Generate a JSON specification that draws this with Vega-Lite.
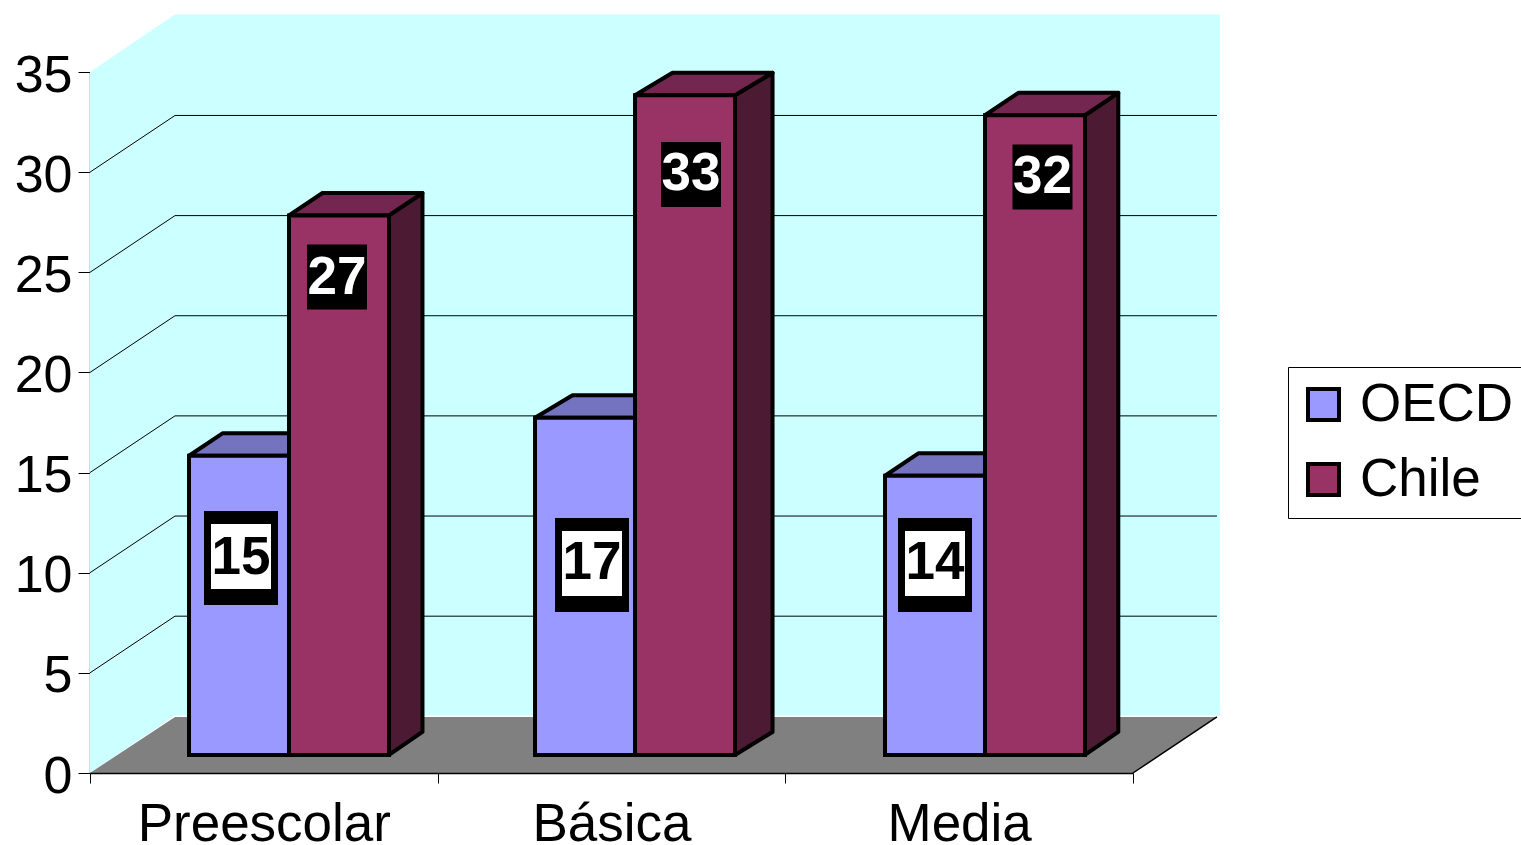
{
"$schema":"https://vega.github.io/schema/vega-lite/v6.json",
"width":1043,"height":701,
"autosize":{"type":"none"},
"padding":{"left":90,"top":72,"right":388,"bottom":72},
"background":"white",
"config":{"view":{"stroke":null},"font":"Liberation Sans",
 "axisY":{"tickCount":8,"labelFontSize":52,"labelFont":"Liberation Sans","labelColor":"black","labelPadding":6,"labelOffset":3,"tickSize":12,"tickColor":"black","domainColor":"#3f6f6f","domainWidth":1.5,"grid":false,"zindex":1}},
"resolve":{"scale":{"x":"independent"}},
"datasets":{
"valores":[
{"nivel":"Preescolar","serie":"OECD","valor":15},
{"nivel":"Preescolar","serie":"Chile","valor":27},
{"nivel":"Básica","serie":"OECD","valor":16.9},
{"nivel":"Básica","serie":"Chile","valor":33},
{"nivel":"Media","serie":"OECD","valor":14},
{"nivel":"Media","serie":"Chile","valor":32}
],
"planos":[{"fondo":0},{"fondo":1}],
"marcas":[{"marca":5},{"marca":10},{"marca":15},{"marca":20},{"marca":25},{"marca":30}]
},
"layer":[
{"data":{"name":"valores"},"mark":{"type":"rect","opacity":0},
 "encoding":{"x":{"field":"nivel","type":"nominal","sort":["Preescolar","Básica","Media"],
  "scale":{"paddingInner":0,"paddingOuter":0},
  "axis":{"title":null,"orient":"bottom","labelAngle":0,"labelFontSize":53,"labelFont":"Liberation Sans","labelColor":"black","labelPadding":15,"labelLimit":400,"tickBand":"extent","tickSize":10,"tickColor":"black","domainColor":"black","domainWidth":1.5,"zindex":1}}}},
{"data":{"name":"planos"},"transform":[{"calculate":"datum.fondo*0.2445","as":"xp"},{"calculate":"datum.fondo*2.87","as":"y0"},{"calculate":"35+datum.fondo*2.87","as":"y1"}],
 "mark":{"type":"area","color":"#CCFFFF"},
 "encoding":{"x":{"field":"xp","type":"quantitative","scale":{"domain":[0,3],"nice":false,"zero":false},"axis":null},
  "y":{"field":"y0","type":"quantitative","scale":{"domain":[0,35],"nice":false},"axis":{"title":null}},
  "y2":{"field":"y1"}}},
{"data":{"name":"planos"},"transform":[{"filter":"datum.fondo==1"},{"calculate":"0.2445","as":"xa"},{"calculate":"3.2500","as":"xb"},{"calculate":"2.87","as":"y0"},{"calculate":"37.87","as":"y1"}],
 "mark":{"type":"rect","color":"#CCFFFF"},
 "encoding":{"x":{"field":"xa","type":"quantitative","scale":{"domain":[0,3],"nice":false,"zero":false},"axis":null},"x2":{"field":"xb"},
  "y":{"field":"y0","type":"quantitative","scale":{"domain":[0,35],"nice":false},"axis":{"title":null}},"y2":{"field":"y1"}}},
{"data":{"name":"planos"},"transform":[{"calculate":"datum.fondo*2.8","as":"yp"},{"calculate":"datum.fondo*0.2445","as":"xa"},{"calculate":"3+datum.fondo*0.2415","as":"xb"}],
 "mark":{"type":"area","orient":"horizontal","color":"#808080"},
 "encoding":{"y":{"field":"yp","type":"quantitative","scale":{"domain":[0,35],"nice":false},"axis":{"title":null}},
  "x":{"field":"xa","type":"quantitative","scale":{"domain":[0,3],"nice":false,"zero":false},"axis":null},"x2":{"field":"xb"}}},
{"data":{"name":"marcas"},"transform":[{"calculate":"datum.marca+2.83","as":"yf"},{"calculate":"0.2445","as":"xa"},{"calculate":"3.2415","as":"xb"}],
 "mark":{"type":"rule","color":"black","strokeWidth":1},
 "encoding":{"x":{"field":"xa","type":"quantitative","scale":{"domain":[0,3],"nice":false,"zero":false},"axis":null},"x2":{"field":"xb"},
  "y":{"field":"yf","type":"quantitative","scale":{"domain":[0,35],"nice":false},"axis":{"title":null}}}},
{"data":{"name":"marcas"},"transform":[{"calculate":"datum.marca+2.83","as":"yf"},{"calculate":"0","as":"xa"},{"calculate":"0.2445","as":"xb"}],
 "mark":{"type":"rule","color":"black","strokeWidth":1},
 "encoding":{"x":{"field":"xa","type":"quantitative","scale":{"domain":[0,3],"nice":false,"zero":false},"axis":null},"x2":{"field":"xb"},
  "y":{"field":"marca","type":"quantitative","scale":{"domain":[0,35],"nice":false},"axis":{"title":null}},"y2":{"field":"yf"}}},
{"data":{"name":"planos"},"transform":[{"filter":"datum.fondo==1"},{"calculate":"3","as":"xa"},{"calculate":"3.2415","as":"xb"},{"calculate":"0","as":"y0"},{"calculate":"2.8","as":"y1"}],
 "mark":{"type":"rule","color":"black","strokeWidth":1.5},
 "encoding":{"x":{"field":"xa","type":"quantitative","scale":{"domain":[0,3],"nice":false,"zero":false},"axis":null},"x2":{"field":"xb"},
  "y":{"field":"y0","type":"quantitative","scale":{"domain":[0,35],"nice":false},"axis":{"title":null}},"y2":{"field":"y1"}}},
{"data":{"name":"valores"},"transform":[
  {"calculate":"indexof(['Preescolar','Básica','Media'],datum.nivel)","as":"i"},
  {"calculate":"[0.2848,1.28,2.2867][datum.i]+(datum.serie==='Chile'?0.2876:0)+0.2876","as":"x1"},
  {"calculate":"[0.0963,0.108,0.0958][datum.i]","as":"dxb"},
  {"calculate":"[0,1]","as":"f"},{"flatten":["f"]},
  {"calculate":"datum.x1+datum.f*datum.dxb","as":"xs"},
  {"calculate":"0.9+datum.f*1.15","as":"yb"},
  {"calculate":"0.84+datum.valor+datum.f*1.12","as":"yt"}],
 "mark":{"type":"area","stroke":"black","strokeWidth":4,"strokeJoin":"round"},
 "encoding":{"x":{"field":"xs","type":"quantitative","scale":{"domain":[0,3],"nice":false,"zero":false},"axis":null},
  "y":{"field":"yb","type":"quantitative","scale":{"domain":[0,35],"nice":false},"axis":{"title":null}},"y2":{"field":"yt"},
  "detail":[{"field":"nivel"},{"field":"serie"}],
  "fill":{"condition":{"test":"datum.serie==='OECD'","value":"#4D4D80"},"value":"#4D1A33"}}},
{"data":{"name":"valores"},"transform":[
  {"calculate":"indexof(['Preescolar','Básica','Media'],datum.nivel)","as":"i"},
  {"calculate":"[0.2848,1.28,2.2867][datum.i]+(datum.serie==='Chile'?0.2876:0)","as":"x0"},
  {"calculate":"[0.0963,0.108,0.0958][datum.i]","as":"dxb"},
  {"calculate":"[0,1]","as":"f"},{"flatten":["f"]},
  {"calculate":"datum.x0+datum.f*datum.dxb","as":"xa"},
  {"calculate":"datum.xa+0.2876","as":"xb"},
  {"calculate":"0.84+datum.valor+datum.f*1.12","as":"yt"}],
 "mark":{"type":"area","orient":"horizontal","stroke":"black","strokeWidth":4,"strokeJoin":"round"},
 "encoding":{"x":{"field":"xa","type":"quantitative","scale":{"domain":[0,3],"nice":false,"zero":false},"axis":null},"x2":{"field":"xb"},
  "y":{"field":"yt","type":"quantitative","scale":{"domain":[0,35],"nice":false},"axis":{"title":null}},
  "detail":[{"field":"nivel"},{"field":"serie"}],
  "fill":{"condition":{"test":"datum.serie==='OECD'","value":"#7373BF"},"value":"#732650"}}},
{"data":{"name":"valores"},"transform":[
  {"calculate":"indexof(['Preescolar','Básica','Media'],datum.nivel)","as":"i"},
  {"calculate":"[0.2848,1.28,2.2867][datum.i]+(datum.serie==='Chile'?0.2876:0)","as":"x0"},
  {"calculate":"datum.x0+0.2876","as":"x1"},
  {"calculate":"0.9","as":"yb"},
  {"calculate":"0.84+datum.valor","as":"yt"}],
 "mark":{"type":"rect","stroke":"black","strokeWidth":4},
 "encoding":{"x":{"field":"x0","type":"quantitative","scale":{"domain":[0,3],"nice":false,"zero":false},"axis":null},"x2":{"field":"x1"},
  "y":{"field":"yb","type":"quantitative","scale":{"domain":[0,35],"nice":false},"axis":{"title":null}},"y2":{"field":"yt"},
  "fill":{"field":"serie","type":"nominal","sort":["OECD","Chile"],"scale":{"domain":["OECD","Chile"],"range":["#9999FF","#993366"]},
   "legend":{"title":null,"orient":"none","legendX":1198,"legendY":295,"fillColor":"white","strokeColor":"black","padding":11,"cornerRadius":0,"symbolType":"square","symbolSize":960,"symbolStrokeColor":"black","symbolStrokeWidth":4,"symbolOffset":-2,"labelFontSize":53,"labelFont":"Liberation Sans","labelColor":"black","labelOffset":10,"labelLimit":400,"rowPadding":21}}}},
{"data":{"name":"valores"},"transform":[{"filter":"datum.serie==='OECD'"},
  {"calculate":"{'Preescolar':0.4343,'Básica':1.4439,'Media':2.4305}[datum.nivel]","as":"cx"},
  {"calculate":"{'Preescolar':10.81,'Básica':10.46,'Media':10.46}[datum.nivel]","as":"cy"},
  {"calculate":"datum.cx-0.1064","as":"xa"},{"calculate":"datum.cx+0.1064","as":"xb"},
  {"calculate":"datum.cy-2.42","as":"ya"},{"calculate":"datum.cy+2.27","as":"yb"}],
 "mark":{"type":"rect","color":"black"},
 "encoding":{"x":{"field":"xa","type":"quantitative","scale":{"domain":[0,3],"nice":false,"zero":false},"axis":null},"x2":{"field":"xb"},
  "y":{"field":"ya","type":"quantitative","scale":{"domain":[0,35],"nice":false},"axis":{"title":null}},"y2":{"field":"yb"}}},
{"data":{"name":"valores"},"transform":[{"filter":"datum.serie==='OECD'"},
  {"calculate":"{'Preescolar':0.4343,'Básica':1.4439,'Media':2.4305}[datum.nivel]","as":"cx"},
  {"calculate":"{'Preescolar':10.81,'Básica':10.46,'Media':10.46}[datum.nivel]","as":"cy"},
  {"calculate":"datum.cx-0.0863","as":"xa"},{"calculate":"datum.cx+0.0863","as":"xb"},
  {"calculate":"datum.cy-1.6225","as":"ya"},{"calculate":"datum.cy+1.6225","as":"yb"}],
 "mark":{"type":"rect","color":"white"},
 "encoding":{"x":{"field":"xa","type":"quantitative","scale":{"domain":[0,3],"nice":false,"zero":false},"axis":null},"x2":{"field":"xb"},
  "y":{"field":"ya","type":"quantitative","scale":{"domain":[0,35],"nice":false},"axis":{"title":null}},"y2":{"field":"yb"}}},
{"data":{"name":"valores"},"transform":[{"filter":"datum.serie==='Chile'"},
  {"calculate":"{'Preescolar':0.7104,'Básica':1.7287,'Media':2.7397}[datum.nivel]","as":"cx"},
  {"calculate":"{'Preescolar':24.76,'Básica':29.88,'Media':29.76}[datum.nivel]","as":"cy"},
  {"calculate":"datum.cx-0.0863","as":"xa"},{"calculate":"datum.cx+0.0863","as":"xb"},
  {"calculate":"datum.cy-1.6225","as":"ya"},{"calculate":"datum.cy+1.6225","as":"yb"}],
 "mark":{"type":"rect","color":"black"},
 "encoding":{"x":{"field":"xa","type":"quantitative","scale":{"domain":[0,3],"nice":false,"zero":false},"axis":null},"x2":{"field":"xb"},
  "y":{"field":"ya","type":"quantitative","scale":{"domain":[0,35],"nice":false},"axis":{"title":null}},"y2":{"field":"yb"}}},
{"data":{"name":"valores"},"transform":[
  {"calculate":"{'Preescolar':[0.4343,0.7104],'Básica':[1.4439,1.7287],'Media':[2.4305,2.7397]}[datum.nivel][datum.serie==='OECD'?0:1]","as":"cx"},
  {"calculate":"{'Preescolar':[10.72,24.72],'Básica':[10.5,29.92],'Media':[10.5,29.76]}[datum.nivel][datum.serie==='OECD'?0:1]","as":"cy"}],
 "mark":{"type":"text","font":"Liberation Sans","fontWeight":"bold","fontSize":53,"align":"center","baseline":"middle"},
 "encoding":{"x":{"field":"cx","type":"quantitative","scale":{"domain":[0,3],"nice":false,"zero":false},"axis":null},
  "y":{"field":"cy","type":"quantitative","scale":{"domain":[0,35],"nice":false},"axis":{"title":null}},
  "text":{"field":"valor","type":"quantitative","format":".0f"},
  "color":{"condition":{"test":"datum.serie==='OECD'","value":"black"},"value":"white"}}}
]
}
